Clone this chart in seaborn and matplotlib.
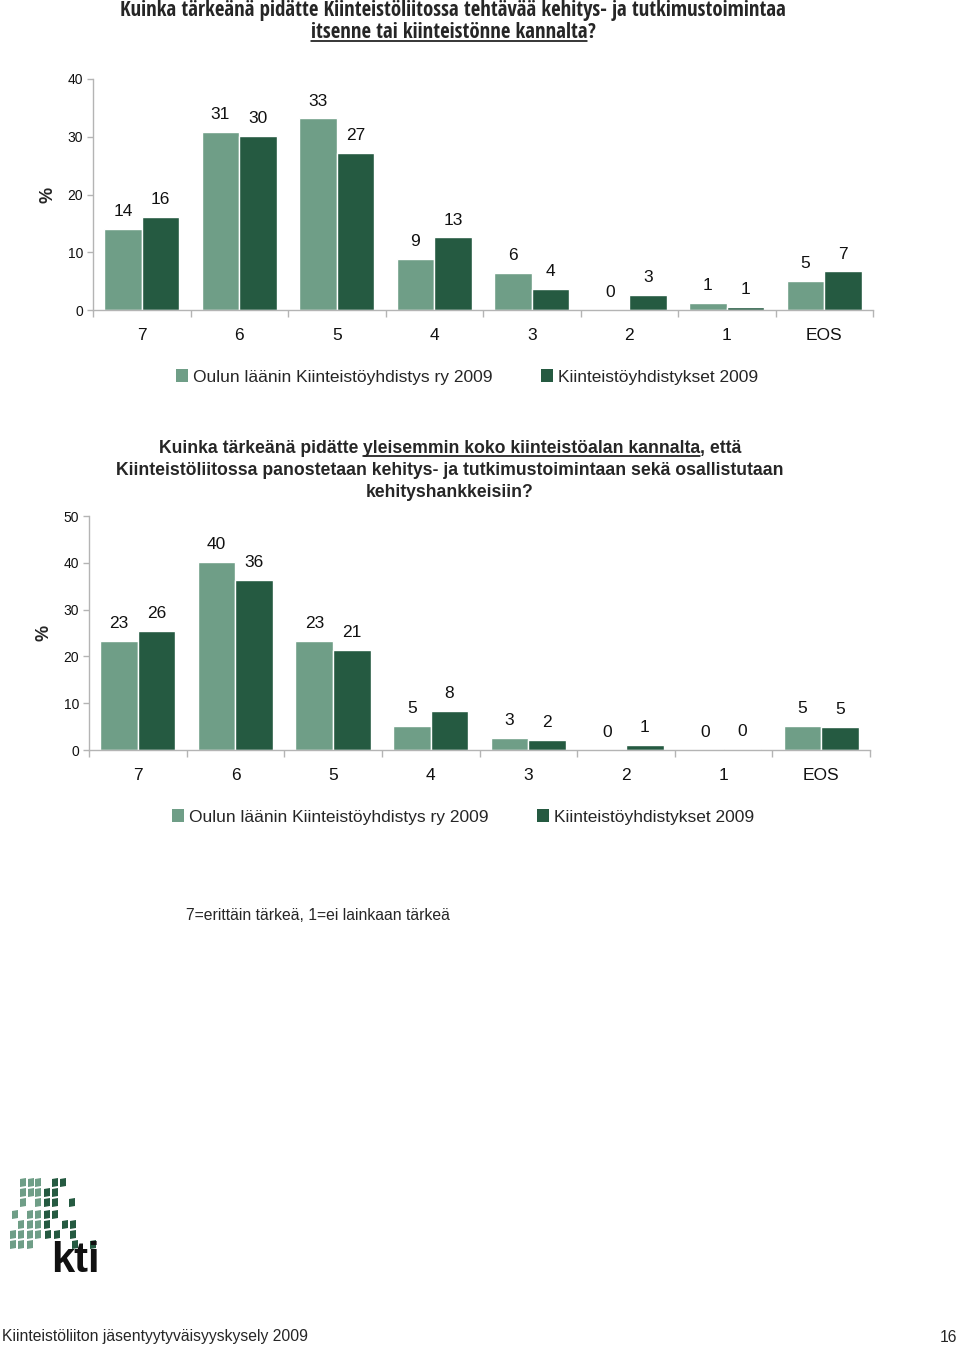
import matplotlib
matplotlib.use('Agg')
import matplotlib.pyplot as plt
import seaborn as sns
import pandas as pd
import numpy as np
from matplotlib.patches import Rectangle, Polygon
from matplotlib import font_manager
from matplotlib.font_manager import FontProperties

# ---------------- data ----------------
categories = ['7', '6', '5', '4', '3', '2', '1', 'EOS']
series_names = ['Oulun läänin Kiinteistöyhdistys ry 2009', 'Kiinteistöyhdistykset 2009']
q1_oulu = [14.0, 30.8, 33.2, 8.8, 6.4, 0.0, 1.2, 5.0]
q1_all = [16.1, 30.1, 27.2, 12.6, 3.6, 2.6, 0.6, 6.7]
q2_oulu = [23.3, 40.2, 23.3, 5.1, 2.6, 0.0, 0.0, 5.1]
q2_all = [25.5, 36.3, 21.4, 8.3, 2.1, 1.1, 0.2, 4.9]
q1_yticks = [0, 10, 20, 30, 40]
q2_yticks = [0, 10, 20, 30, 40, 50]

title1_l1 = 'Kuinka tärkeänä pidätte Kiinteistöliitossa tehtävää kehitys- ja tutkimustoimintaa'
title1_l2_u = 'itsenne tai kiinteistönne kannalta'
title1_l2_rest = '?'
title2_l1_pre = 'Kuinka tärkeänä pidätte '
title2_l1_u = 'yleisemmin koko kiinteistöalan kannalta'
title2_l1_post = ', että'
title2_l2 = 'Kiinteistöliitossa panostetaan kehitys- ja tutkimustoimintaan sekä osallistutaan'
title2_l3 = 'kehityshankkeisiin?'
footnote = '7=erittäin tärkeä, 1=ei lainkaan tärkeä'
footer_left = 'Kiinteistöliiton jäsentyytyväisyyskysely 2009'
footer_right = '16'
ylabel = '%'
logo_text = 'kti'

LIGHT = '#6f9e87'
DARK = '#255a41'
AXC = '#b4b4b4'

sns.set_style('white')
plt.rcParams['font.family'] = ['Liberation Sans', 'DejaVu Sans']

W, H = 960, 1347
fig = plt.figure(figsize=(W / 100, H / 100), dpi=100)


def fx(px):
    return px / W


def fy(py):
    return 1 - py / H


def draw_chart(rect, oulu, allv, yticks):
    left, top, right, bottom = rect
    ax = fig.add_axes([fx(left), fy(bottom), fx(right - left), (bottom - top) / H])
    df = pd.DataFrame({
        'Arvo': categories * 2,
        'Vastaaja': [series_names[0]] * len(categories) + [series_names[1]] * len(categories),
        'Osuus': list(oulu) + list(allv),
    })
    sns.barplot(data=df, x='Arvo', y='Osuus', hue='Vastaaja', order=categories,
                hue_order=series_names, palette=[LIGHT, DARK], saturation=1,
                width=0.77, errorbar=None, legend=False, ax=ax)
    for c in ax.containers:
        ax.bar_label(c, fmt='%.0f', padding=7, fontsize=12.5, color='#111111')
    ax.set_xlim(-0.5, len(categories) - 0.5)
    ax.set_ylim(yticks[0], yticks[-1])
    ax.set_yticks(yticks)
    ax.set_xlabel('')
    ax.set_ylabel('')
    for s in ['top', 'right']:
        ax.spines[s].set_visible(False)
    for s in ['left', 'bottom']:
        ax.spines[s].set_color(AXC)
        ax.spines[s].set_linewidth(1.0)
    ax.tick_params(axis='y', which='major', left=True, length=4, width=1, color=AXC,
                   labelsize=10, pad=3, labelcolor='#111111')
    ax.tick_params(axis='x', which='major', bottom=True, length=0, labelsize=12.5, pad=13,
                   labelcolor='#111111')
    ax.set_xticks(np.arange(-0.5, len(categories), 1), minor=True)
    ax.tick_params(axis='x', which='minor', bottom=True, length=5, width=1, color=AXC,
                   direction='out')
    ax.grid(False)
    return ax


ax1 = draw_chart((93, 79, 873, 310), q1_oulu, q1_all, q1_yticks)
ax2 = draw_chart((89, 516, 870, 750), q2_oulu, q2_all, q2_yticks)

fig.text(fx(48), fy(195), ylabel, rotation=90, ha='center', va='center', fontsize=13, fontweight='bold')
fig.text(fx(44), fy(633), ylabel, rotation=90, ha='center', va='center', fontsize=13, fontweight='bold')

handles = [Rectangle((0, 0), 1, 1, facecolor=LIGHT, edgecolor='none'),
           Rectangle((0, 0), 1, 1, facecolor=DARK, edgecolor='none')]
for cy, cx in [(377, 467), (817, 463)]:
    fig.legend(handles, series_names, loc='center', bbox_to_anchor=(fx(cx), fy(cy)),
               ncol=2, frameon=False, fontsize=12.5, handlelength=0.7, handleheight=0.7,
               handletextpad=0.3, columnspacing=2.8, borderaxespad=0)

# ---------------- titles with underlines ----------------
fig.canvas.draw()
renderer = fig.canvas.get_renderer()


def text_width(s, fp):
    t = fig.text(0, 0, s, fontproperties=fp)
    w = t.get_window_extent(renderer).width
    t.remove()
    return w


WMAP = {'ultralight': 100, 'light': 300, 'normal': 400, 'regular': 400, 'book': 400,
        'medium': 500, 'roman': 400, 'semibold': 600, 'demibold': 600, 'demi': 600,
        'bold': 700, 'heavy': 800, 'extra bold': 800, 'black': 900}


def wnum(w):
    try:
        return int(w)
    except (TypeError, ValueError):
        return WMAP.get(str(w).lower(), 400)


# narrowest upright bold sans font available, for the condensed first title
candidates = [FontProperties(family='Liberation Sans', weight='bold')]
for f in font_manager.fontManager.ttflist:
    nm = f.name.lower()
    fn = f.fname.lower()
    if f.style != 'normal' or 'italic' in fn or 'oblique' in fn:
        continue
    narrowish = ('narrow' in nm or 'condensed' in nm or 'narrow' in fn or 'condensed' in fn
                 or str(f.stretch) in ('condensed', 'semi-condensed', 'extra-condensed'))
    if narrowish and wnum(f.weight) >= 600 and fn.endswith(('.ttf', '.otf')):
        if any(k in nm for k in ('liberation', 'dejavu', 'roboto', 'open sans', 'noto sans', 'lato', 'arial')) \
                and 'mono' not in nm and 'cjk' not in nm and 'serif' not in nm.replace('sans', ''):
            candidates.append(FontProperties(fname=f.fname, weight='bold'))

TARGET_W1 = 665.0
best_fp, best_size = candidates[0], 0
for fp in candidates:
    try:
        fp.set_size(12)
        w = text_width(title1_l1, fp)
        size = 12 * TARGET_W1 / w
        if size > best_size:
            best_fp, best_size = fp, size
    except Exception:
        pass
best_size = min(best_size, 16.5)
T1FP = best_fp.copy()
T1FP.set_size(best_size)

T2FP = FontProperties(family='Liberation Sans', weight='bold', size=12.7)


def underlined_line(cx, base_y, parts, fp, gap):
    widths = [text_width(p, fp) for p, _ in parts]
    total = sum(widths)
    x = cx - total / 2
    for (p, u), w in zip(parts, widths):
        fig.text(fx(x), fy(base_y), p, ha='left', va='baseline', fontproperties=fp)
        if u:
            yl = fy(base_y + gap)
            fig.add_artist(plt.Line2D([fx(x), fx(x + w)], [yl, yl], color='black',
                                      linewidth=1.1, transform=fig.transFigure))
        x += w


fig.text(fx(453), fy(16), title1_l1, ha='center', va='baseline', fontproperties=T1FP)
underlined_line(453, 37.5, [(title1_l2_u, True), (title1_l2_rest, False)], T1FP, 3)

underlined_line(450, 453, [(title2_l1_pre, False), (title2_l1_u, True), (title2_l1_post, False)], T2FP, 2.5)
fig.text(fx(450), fy(475), title2_l2, ha='center', va='baseline', fontproperties=T2FP)
fig.text(fx(450), fy(497), title2_l3, ha='center', va='baseline', fontproperties=T2FP)

fig.text(fx(186), fy(916), footnote, ha='left', va='center', fontsize=11.3)
fig.text(fx(2), fy(1337), footer_left, ha='left', va='center', fontsize=11.3)
fig.text(fx(957), fy(1337), footer_right, ha='right', va='center', fontsize=11.3)

# ---------------- logo (decoration) ----------------
logo_rows = [
    (1178, [20, 28, 35], [52, 60]),
    (1188, [20, 28, 35], [44, 52]),
    (1198, [20, 35], [44, 52, 69]),
    (1210, [12, 27, 35], [44, 52]),
    (1220, [18, 27, 35], [44, 62, 70]),
    (1230, [10, 18, 27, 35], [45, 54, 70]),
    (1240, [10, 18, 27], [72, 90]),
]
for y, lights, darks in logo_rows:
    for xs, col in ((lights, LIGHT), (darks, DARK)):
        for x in xs:
            pts = [(x, y + 1), (x + 6, y), (x + 6, y + 8), (x, y + 9)]
            fig.add_artist(Polygon([(fx(a), fy(b)) for a, b in pts], closed=True,
                                   facecolor=col, edgecolor='none', transform=fig.transFigure))
fig.text(fx(51), fy(1272), logo_text, ha='left', va='baseline', fontsize=30, fontweight='bold',
         color='#111111')

fig.savefig('out.png', dpi=100)
